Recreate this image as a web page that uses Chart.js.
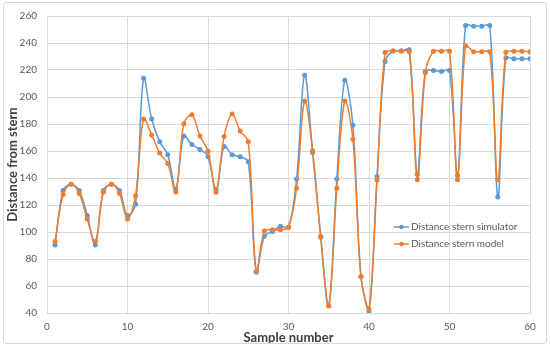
<!DOCTYPE html>
<html lang="en">
<head>
	<meta charset="UTF-8">
	<title>Distance from stern</title>
	<script src="https://cdn.jsdelivr.net/npm/chart.js@4.4.1/dist/chart.umd.min.js"></script>
	<style>
		body { margin: 0; background: #fff; }
		#wrap { position: relative; width: 550px; height: 349px; }
		#frame { position: absolute; left: 3px; top: 2px; width: 542px; height: 340px;
			border: 1px solid #d9d9d9; border-radius: 3px; pointer-events: none; }
	</style>
</head>
<body>
	<div id="wrap">
		<canvas id="line-chart" width="550" height="349"></canvas>
		<div id="frame"></div>
	</div>

	<script>
		// sample numbers
		var samples = [1,2,3,4,5,6,7,8,9,10,11,12,13,14,15,16,17,18,19,20,
			21,22,23,24,25,26,27,28,29,30,31,32,33,34,35,36,37,38,39,40,
			41,42,43,44,45,46,47,48,49,50,51,52,53,54,55,56,57,58,59,60];

		var simulator = [90.3,130.7,135.3,130.7,112.3,90.3,130.7,135.3,130.7,112.3,
			120.5,213.8,183.7,166.8,157.3,131.7,171.1,164.8,161.2,155.7,
			131.4,163.4,157.3,155.7,152,70.2,96.8,100.4,104.3,103.6,
			139.2,216.2,158.8,96.8,45.5,139.2,212.5,179.1,67,41.1,
			141.1,226.3,234,234,235,142.8,219.1,219.6,218.8,219.6,
			141.6,253,252.5,252.5,253,125.9,228.8,228.3,228.3,228.3];

		var model = [93,127.8,135.3,128.5,109.6,93,129.5,135.3,128.5,109.6,
			126.8,183.7,171.9,158.5,150.8,129.7,180.1,186.9,171.1,159.8,
			129.5,170.7,187.4,174.8,166.8,70.9,100.7,101.6,101.6,103.6,
			132.4,197,160.2,96.1,45.2,132.4,197,168.7,67,43,
			138.5,232.9,234.1,234,233.6,138.7,217.9,233.9,233.9,233.9,
			138.7,238,233.6,233.6,233.6,138.7,233.1,233.9,233.9,233.6];

		var seriesNames = ["Distance stern simulator", "Distance stern model"];
		var seriesColors = ["#5b9bd5", "#ed7d31"];

		function toPoints(values) {
			return values.map(function (v, i) { return { x: samples[i], y: v }; });
		}

		// legend drawn inside the plot, like the excel one
		var insideLegend = {
			id: 'insideLegend',
			afterDraw: function (chart) {
				var ctx = chart.ctx;
				ctx.save();
				ctx.font = "10px Lato";
				ctx.textBaseline = "middle";
				for (var i = 0; i < seriesNames.length; i++) {
					var y = 227 + i * 17;
					ctx.strokeStyle = seriesColors[i];
					ctx.fillStyle = seriesColors[i];
					ctx.lineWidth = 1.5;
					ctx.beginPath();
					ctx.moveTo(394, y);
					ctx.lineTo(409, y);
					ctx.stroke();
					ctx.beginPath();
					ctx.arc(401.5, y, 2.2, 0, Math.PI * 2);
					ctx.fill();
					ctx.fillStyle = "#595959";
					ctx.fillText(seriesNames[i], 411, y);
				}
				ctx.restore();
			}
		};

		new Chart(document.getElementById("line-chart"), {
			type: 'line',
			data: {
				datasets: [
					{
						label: seriesNames[0],
						data: toPoints(simulator),
						borderColor: seriesColors[0],
						backgroundColor: seriesColors[0],
						borderWidth: 1.5,
						pointRadius: 2.5,
						pointBorderWidth: 0,
						tension: 0.35,
						order: 1
					},
					{
						label: seriesNames[1],
						data: toPoints(model),
						borderColor: seriesColors[1],
						backgroundColor: seriesColors[1],
						borderWidth: 1.5,
						pointRadius: 2.5,
						pointBorderWidth: 0,
						tension: 0.35,
						order: 0
					}
				]
			},
			options: {
				responsive: false,
				animation: false,
				layout: { padding: { left: 0, right: 20, top: 10, bottom: 0 } },
				plugins: {
					legend: { display: false },
					tooltip: { enabled: false }
				},
				scales: {
					x: {
						type: 'linear',
						min: 0,
						max: 60,
						ticks: { stepSize: 10, padding: 8, color: "#595959", font: { family: "Lato", size: 10 } },
						grid: { color: "#d9d9d9", drawTicks: false },
						border: { color: "#d9d9d9" },
						title: { display: true, text: "Sample number", color: "#404040",
							font: { family: "Lato", size: 13, weight: "bold" }, padding: { top: 0, bottom: 3 } },
						afterFit: function (scale) { scale.height = 36; }
					},
					y: {
						min: 40,
						max: 260,
						ticks: { stepSize: 20, padding: 10, color: "#595959", font: { family: "Lato", size: 10 } },
						grid: { color: "#d9d9d9", drawTicks: false },
						border: { display: false },
						title: { display: true, text: "Distance from stern", color: "#404040",
							font: { family: "Lato", size: 13, weight: "bold" }, padding: { top: 5, bottom: 0 } },
						afterFit: function (scale) { scale.width = 47; }
					}
				}
			},
			plugins: [insideLegend]
		});
	</script>
</body>
</html>
